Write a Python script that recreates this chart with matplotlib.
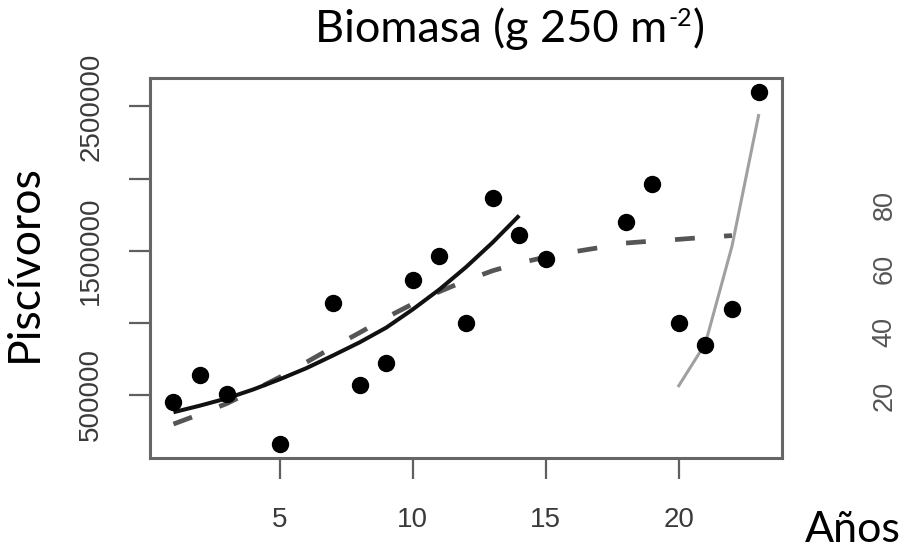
import matplotlib.pyplot as plt

# values
years = [1, 2, 3, 5, 7, 8, 9, 10, 11, 12, 13, 14, 15, 18, 19, 20, 21, 22, 23]
biomass = [447000, 637000, 505000, 158000, 1135000, 567000, 720000, 1299000, 1461000,
           998000, 1864000, 1611000, 1440000, 1701000, 1961000, 996000, 845000, 1093000, 2600000]

# fitted curve, first period (solid black)
fit1_years = [1, 2, 3, 4, 5, 6, 7, 8, 9, 10, 11, 12, 13, 14]
fit1_vals = [378000, 424000, 474000, 536000, 607000, 684000, 772000, 863000, 965000,
             1092000, 1230000, 1385000, 1556000, 1743000]

# fitted curve, whole series (dashed)
fit_all_years = [1, 2, 3, 4, 5, 6, 7, 8, 9, 10, 11, 12, 13, 14, 15, 16, 17, 18, 19, 20, 21, 22]
fit_all_vals = [296000, 365000, 438000, 528000, 622000, 725000, 830000, 930000, 1035000, 1130000,
                1215000, 1292000, 1360000, 1413000, 1455000, 1490000, 1520000, 1552000, 1566000,
                1578000, 1592000, 1604000]

# fitted curve, last period (light grey)
fit2_years = [20, 21, 22, 23]
fit2_vals = [562000, 855000, 1530000, 2437000]

xticks = [5, 10, 15, 20]
yticks = [500000, 1000000, 1500000, 2000000, 2500000]
ytick_labels = ['500000', '', '1500000', '', '2500000']
right_ticks = [20, 40, 60, 80]

TICK_FONT = 'Liberation Sans'
TEXT_FONT = 'Lato'

fig = plt.figure(figsize=(9.06, 5.48), dpi=100)
ax = fig.add_axes([0.1656, 0.1642, 0.6975, 0.6935])

ax.plot(fit_all_years, fit_all_vals, color='#555555', lw=3.4, linestyle=(0, (4.2, 6.2)))
ax.plot(fit1_years, fit1_vals, color='#111111', lw=2.9, solid_capstyle='butt')
ax.plot(fit2_years, fit2_vals, color='#a0a0a0', lw=2.2)
ax.plot(years, biomass, 'o', color='black', markersize=11.5, linestyle='none')

ax.set_xlim(0.12, 23.88)
ax.set_ylim(60320, 2697680)
ax.set_xticks(xticks)
ax.set_xticklabels([str(t) for t in xticks])
ax.set_yticks(yticks)
ax.set_yticklabels(ytick_labels, rotation=90, va='center')

for s in ax.spines.values():
    s.set_color('#666666')
    s.set_linewidth(2.2)

ax.tick_params(axis='both', length=15, width=1.6, color='#5f5f5f', labelcolor='#3a3a3a',
               labelsize=20)
ax.tick_params(axis='x', pad=20)
ax.tick_params(axis='y', pad=18)
for lab in ax.get_xticklabels() + ax.get_yticklabels():
    lab.set_family(TICK_FONT)

# remains of the neighbouring panel at the right edge
ax2 = fig.add_axes([1.0, 0.1642, 0.1, 0.6935])
ax2.set_ylim(0.5, 120)
ax2.set_xticks([])
ax2.set_yticks(right_ticks)
ax2.set_yticklabels([str(t) for t in right_ticks], rotation=90, va='center')
ax2.tick_params(axis='y', length=0, pad=6, labelcolor='#555555', labelsize=19.5)
for lab in ax2.get_yticklabels():
    lab.set_family(TICK_FONT)
for s in ax2.spines.values():
    s.set_visible(False)

# title in three pieces so the exponent keeps a plain hyphen
renderer = fig.canvas.get_renderer()
title_y = 1 - 42 / 548
t1 = fig.text(0, title_y, 'Biomasa (g 250 m', family=TEXT_FONT, fontsize=32.5, va='baseline')
t2 = fig.text(0, title_y + 16 / 548, '-2', family=TEXT_FONT, fontsize=18, va='baseline')
t3 = fig.text(0, title_y, ')', family=TEXT_FONT, fontsize=32.5, va='baseline')
w1 = t1.get_window_extent(renderer).width
w2 = t2.get_window_extent(renderer).width
w3 = t3.get_window_extent(renderer).width
x0 = 509 - (w1 + w2 + w3) / 2
t1.set_x(x0 / 906)
t2.set_x((x0 + w1 + 1) / 906)
t3.set_x((x0 + w1 + w2 + 2) / 906)

fig.text(0.027, 0.52, 'Piscívoros', family=TEXT_FONT, fontsize=32, rotation=90,
         ha='center', va='center')
fig.text(0.8885, 0.011, 'Años', family=TEXT_FONT, fontsize=31, ha='left', va='baseline')

fig.savefig('out.png', dpi=100)
